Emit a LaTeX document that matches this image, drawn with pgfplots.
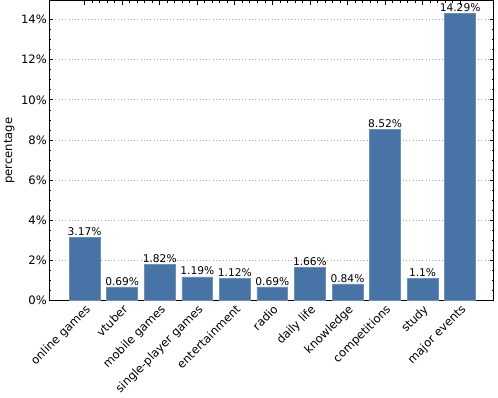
\documentclass[border=0pt]{standalone}
\usepackage{fontspec}
\setmainfont{DejaVu Sans}
\usepackage{pgfplots}
\pgfplotsset{compat=1.18}
\definecolor{barblue}{RGB}{72,115,166}

\begin{document}
\fontsize{8.5pt}{10pt}\selectfont
\begin{tikzpicture}
\begin{axis}[
  scale only axis,
  width=326pt, height=220pt,
  xmin=-0.95, xmax=10.9,
  ymin=0, ymax=14.95,
  ybar, bar width=0.82,
  bar shift=0pt,
  xtick={0,...,10},
  xticklabels={online games,vtuber,mobile games,single-player games,entertainment,radio,daily life,knowledge,competitions,study,major events},
  x tick label style={rotate=45, anchor=north east, inner sep=1.5pt, font=\fontsize{8.5pt}{10pt}\selectfont},
  ytick={0,2,...,14},
  yticklabel={\pgfmathprintnumber{\tick}\%},
  y tick label style={font=\fontsize{8.5pt}{10pt}\selectfont, xshift=1.5pt},
  /pgf/number format/assume math mode=true,
  minor x tick num=4,
  minor y tick num=3,
  tick align=inside,
  major tick length=3pt,
  minor tick length=1.6pt,
  tick style={black, line width=0.5pt},
  axis line style={line width=0.6pt},
  ymajorgrids,
  major grid style={gray!70, dotted, line width=0.5pt},
  ylabel={percentage},
  ylabel style={font=\fontsize{8.5pt}{10pt}\selectfont, yshift=-1pt},
  nodes near coords={\pgfmathprintnumber{\pgfplotspointmeta}\%},
  every node near coord/.append style={font=\fontsize{7.8pt}{9pt}\selectfont, inner sep=1pt},
]
\addplot[fill=barblue, draw=barblue!80!white] coordinates {
(0,3.17) (1,0.69) (2,1.82) (3,1.19) (4,1.12) (5,0.69) (6,1.66) (7,0.84) (8,8.52) (9,1.1) (10,14.29)
};
\end{axis}
\path ([xshift=3pt]current axis.south east);
\end{tikzpicture}
\end{document}
